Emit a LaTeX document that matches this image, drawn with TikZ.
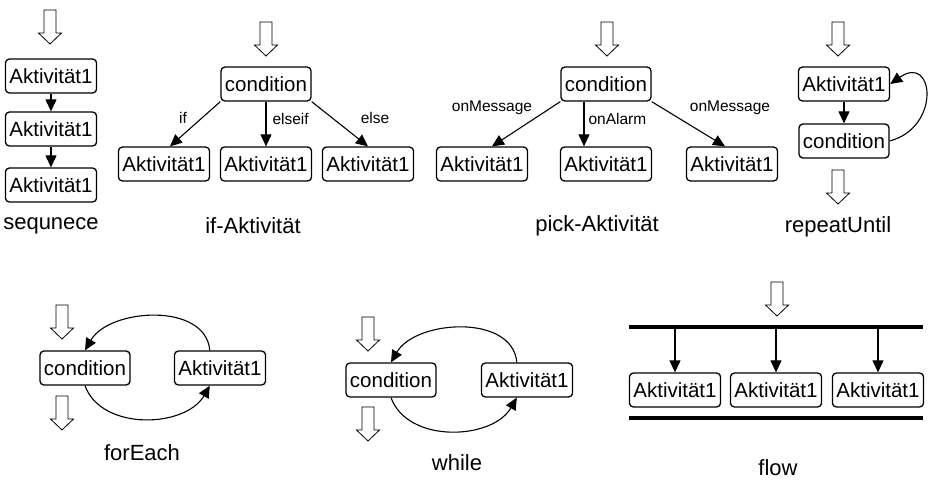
\documentclass[tikz,border=0pt]{standalone}
\usepackage{fontspec}
\setmainfont{Liberation Sans}
\usetikzlibrary{
  arrows.meta,
  calc
}
\tikzset{
  % For activity and condition boxes.
  box/.style={
    draw,
    line width=1.3pt,
    rounded corners=4pt,
    minimum height=34pt,
    inner xsep=4pt,
    font=\fontsize{20.5pt}{20.5pt}\selectfont},
%
  % For the control flow from box to box.
  flowline/.style={
    line width=1.1pt,
    -{Triangle[length=12pt,width=11pt]}},
%
  % For the names of branches.
  branch/.style={
    font=\fontsize{15.5pt}{15.5pt}\selectfont},
%
  % For the name of each construct.
  caption/.style={
    font=\fontsize{22pt}{22pt}\selectfont},
%
  % For the thick bars of a flow.
  bar/.style={
    line width=4pt},
%
  % Hollow arrow for entering or leaving a construct; the origin is the
  % middle of its tail.
  inout/.pic={
    \draw[line width=0.8pt, fill=white]
      (-6,0) -- (-6,23) -- (-11.5,23) -- (0,34) -- (11.5,23) -- (6,23)
      -- (6,0) -- cycle;}
}

\begin{document}
\begin{tikzpicture}[x=1pt, y=-1pt]
  \useasboundingbox (0,0) rectangle (937,493);

  % sequence
  \pic at (50,10) {inout};
  \foreach \y [count=\i] in {76,129,185}
    {\node[box] (seq\i) at (51,\y) {Aktivität1};}
  \draw[flowline] (seq1) -- (seq2);
  \draw[flowline] (seq2) -- (seq3);
  \node[caption] (seqcap) at (51,226) {sequnece};

  % if
  \pic at (266,22) {inout};
  \node[box] (ifcond) at (266,84) {condition};
  \foreach \x [count=\i] in {164,266,368}
    {\node[box] (ifact\i) at (\x,164) {Aktivität1};}
  \draw[flowline] (ifcond.south west) -- ([xshift=6pt]ifact1.north);
  \draw[flowline] (ifcond) -- (ifact2);
  \draw[flowline] (ifcond.south east) -- (ifact3.north);
  \node[branch] (iflbl1) at (183,118) {if};
  \node[branch, anchor=west] (iflbl2) at (269,119) {elseif};
  \node[branch] (iflbl3) at (375,118) {else};
  \node[caption] (ifcap) at (253,226) {if-Aktivität};

  % pick
  \pic at (607,22) {inout};
  \node[box] (pickcond) at (606,84) {condition};
  \foreach \x [count=\i] in {482,606,732}
    {\node[box] (pickact\i) at (\x,164) {Aktivität1};}
  \draw[flowline] (pickcond.south west) -- ([xshift=10pt]pickact1.north);
  \draw[flowline] ([xshift=-22pt]pickcond.south)
    -- ([xshift=-22pt]pickact2.north);
  \draw[flowline] (pickcond.south east) -- ([xshift=-7pt]pickact3.north);
  \node[branch] (picklbl1) at (492,108) {onMessage};
  \node[branch, anchor=west] (picklbl2) at (585,119) {onAlarm};
  \node[branch] (picklbl3) at (730,108) {onMessage};
  \node[caption] (pickcap) at (597,226) {pick-Aktivität};

  % repeatUntil
  \pic at (838,22) {inout};
  \node[box] (repact) at (844,84) {Aktivität1};
  \node[box] (repcond) at (844,141) {condition};
  \draw[flowline] (repact) -- (repcond);
  \draw[flowline] (repcond.east) to[out=15, in=35, looseness=2.4] (repact.east);
  \pic at (838,170) {inout};
  \node[caption] (repcap) at (838,227) {repeatUntil};

  % forEach
  \pic at (62,305) {inout};
  \node[box] (fecond) at (85,368) {condition};
  \node[box] (feact) at (220,368) {Aktivität1};
  \draw[flowline] (feact.120) to[out=95, in=60] (fecond.north);
  \draw[flowline] (fecond.south) to[out=-70, in=-120] (feact.240);
  \pic at (62,396) {inout};
  \node[caption] (fecap) at (142,453) {forEach};

  % while
  \pic at (368,317) {inout};
  \node[box] (whcond) at (391,380) {condition};
  \node[box] (whact) at (527,380) {Aktivität1};
  \draw[flowline] (whact.120) to[out=95, in=60] (whcond.north);
  \draw[flowline] (whcond.south) to[out=-70, in=-120] (whact.240);
  \pic at (368,407) {inout};
  \node[caption] (whcap) at (457,463) {while};

  % flow
  \pic at (777,282) {inout};
  \coordinate (flowtl) at (629,327);
  \coordinate (flowtr) at (923,327);
  \coordinate (flowbl) at (629,418);
  \coordinate (flowbr) at (923,418);
  \draw[bar] (flowtl) -- (flowtr);
  \draw[bar] (flowbl) -- (flowbr);
  \foreach \x [count=\i] in {675,776,878}
    {\node[box] (flowact\i) at (\x,390) {Aktivität1};
     \draw[flowline] (flowact\i.north |- flowtl) -- (flowact\i.north);}
  \node[caption] (flowcap) at (778,468) {flow};
\end{tikzpicture}
\end{document}
